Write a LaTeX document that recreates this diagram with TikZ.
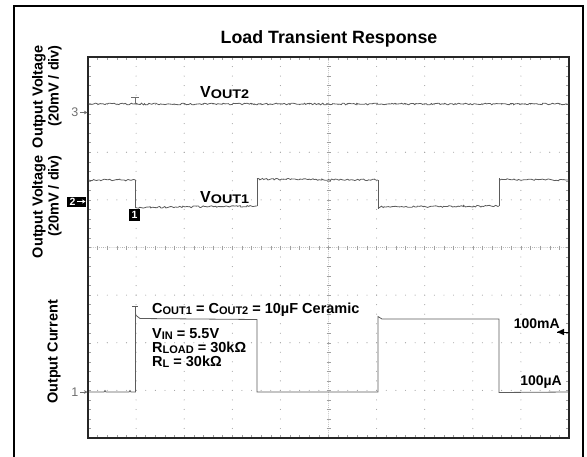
\documentclass[tikz,border=0pt]{standalone}
\usepackage{fontspec}
\setmainfont{Liberation Sans}
\usetikzlibrary{decorations.pathmorphing,arrows.meta}
\definecolor{trace}{HTML}{5C5C5C}
\definecolor{gridc}{HTML}{A0A0A0}
\definecolor{markc}{HTML}{6E6E6E}
\tikzset{
  noisy/.style={draw=trace,line width=0.8pt,decorate,decoration={random steps,segment length=1.6pt,amplitude=0.85pt}},
  clean/.style={draw=trace,line width=0.8pt},
  lbl/.style={inner sep=0pt,font=\fontsize{14.5}{16}\selectfont\bfseries},
  axl/.style={inner sep=0pt,rotate=90,align=right,font=\fontsize{14.5}{16}\selectfont\bfseries},
  gdot/.style={fill=gridc},
  gtick/.style={draw=gridc,line width=0.5pt},
}
\newcommand{\sbs}[1]{\raisebox{-1.3pt}{\fontsize{11}{11}\selectfont #1}}
\newcommand{\vsbs}[1]{\raisebox{-1.3pt}{\scalebox{1.15}[1]{\fontsize{12.5}{12.5}\selectfont #1}}}
\begin{document}
\begin{tikzpicture}[x=1pt,y=-1pt]
\useasboundingbox (0,0) rectangle (587,456);
\pgfmathsetseed{7}
% outer frame
\draw[line width=2.4pt] (14,470) -- (14,6) -- (583,6) -- (583,470);
% title
\node[inner sep=0pt,font=\fontsize{17.8}{20}\selectfont\bfseries,anchor=base] (title) at (329,43) {Load Transient Response};
% grid
\foreach \j in {1,2,3,5,6,7}
  \foreach \i in {0,...,50}
    \fill[gdot] (88+\i*9.62,57+\j*47.625) circle (0.55);
\foreach \k in {1,2,3,4,6,7,8,9}
  \foreach \m in {0,...,40}
    \fill[gdot] (88+\k*48.1,57+\m*9.525) circle (0.55);
\foreach \i in {1,...,49}{
  \draw[gtick] (88+\i*9.62,245.5) -- ++(0,4);
  \draw[gtick] (88+\i*9.62,57) -- ++(0,3);
  \draw[gtick] (88+\i*9.62,438) -- ++(0,-3);
}
\foreach \m in {1,...,39}{
  \draw[gtick] (326.5,57+\m*9.525) -- ++(4,0);
  \draw[gtick] (88,57+\m*9.525) -- ++(3,0);
  \draw[gtick] (569,57+\m*9.525) -- ++(-3,0);
}
\foreach \i in {0,...,250}
  \fill[gdot] (88+\i*1.924,247.5) circle (0.4);
\foreach \m in {0,...,200}
  \fill[gdot] (328.55,57+\m*1.905) circle (0.4);
% plot frame
\draw[line width=1.4pt,draw=black!85] (88,57) rectangle (569,438);
% VOUT2 trace
\draw[noisy] (88.5,104) -- (568.5,104);
\draw[markc,line width=0.8pt] (131,97) -- (139,97) (135,97) -- (135,104);
% VOUT1 trace
\draw[noisy] (88.5,180) -- (135.5,180);
\draw[clean] (135.5,180) -- (135.5,208);
\draw[noisy] (135.5,207.5) -- (257,206);
\draw[clean] (257,206) -- (257,178);
\draw[noisy] (257,179) -- (378,180);
\draw[clean] (378,180) -- (378,209);
\draw[noisy] (378,207) -- (499,206);
\draw[clean] (499,206) -- (499,178);
\draw[noisy] (499,179.5) -- (568.5,180);
% current trace
\draw[clean] (88.5,392) -- (104,392) -- (105,390.5) -- (106,392) -- (129,392) -- (130,390.5) -- (131,392)
  -- (135.5,392) -- (135.5,306);
\draw[clean] (132,306) -- (138,306);
\draw[clean] (135.5,315) -- (140,318.5) -- (257,319.5) -- (257,392) -- (378,392) -- (378,316.5)
  -- (382,319) -- (499,319) -- (499,392.5) -- (568.5,392);
% markers
\node[inner sep=0pt,text=markc,font=\fontsize{12.5}{12}\selectfont,anchor=east] (m3) at (78.5,112.5) {3};
\draw[markc,line width=0.8pt,-{Stealth[length=3.5pt,width=3.5pt]}] (m3.east) ++(1.5,0) -- (87.5,112.5);
\node[fill=black,inner sep=0pt,minimum width=19pt,minimum height=10pt,anchor=east] (m2box) at (86.5,201.5) {};
\node[inner sep=0pt,text=white,font=\fontsize{10.5}{10}\selectfont\bfseries] (m2) at (72.5,201.5) {2};
\draw[white,line width=1pt,-{Stealth[length=3.5pt,width=4pt]}] (m2.east) ++(1.5,0) -- (85.5,201.5);
\node[fill=black,inner sep=0pt,minimum width=11pt,minimum height=12pt,text=white,font=\fontsize{10.5}{10}\selectfont\bfseries] (m1box) at (134.5,215) {1};
\node[inner sep=0pt,text=markc,font=\fontsize{12.5}{12}\selectfont,anchor=east] (m1) at (78.5,392) {1};
\draw[markc,line width=0.8pt,-{Stealth[length=3.5pt,width=3.5pt]}] (m1.east) ++(1.5,0) -- (87.5,392);
% axis labels
\node[axl,anchor=east] (ylab3) at (47,45) {Output Voltage\\(20mV / div)};
\node[axl,anchor=east] (ylab2) at (47,155) {Output Voltage\\(20mV / div)};
\node[axl] (ylab1) at (54,352) {Output Current};
% trace labels
\node[inner sep=0pt,font=\fontsize{16}{16}\selectfont\bfseries,anchor=base west] (v2) at (200,97.5) {V\vsbs{OUT2}};
\node[inner sep=0pt,font=\fontsize{16}{16}\selectfont\bfseries,anchor=base west] (v1) at (200,202.5) {V\vsbs{OUT1}};
\node[lbl,anchor=base west] (cout) at (152,313) {C\sbs{OUT1} = C\sbs{OUT2} = 10µF Ceramic};
\node[lbl,anchor=base west] (vin) at (152,338) {V\sbs{IN} = 5.5V};
\node[lbl,anchor=base west] (rload) at (152,352) {R\sbs{LOAD} = 30kΩ};
\node[lbl,anchor=base west] (rl) at (152,366.5) {R\sbs{L} = 30kΩ};
\node[lbl,font=\fontsize{14}{16}\selectfont\bfseries,anchor=base east] (ima) at (560,328) {100mA};
\node[lbl,font=\fontsize{14}{16}\selectfont\bfseries,anchor=base east] (iua) at (562,385) {100µA};
\coordinate (arrtip) at (557,332);
\coordinate (arrend) at (568.5,332);
\fill[black] (arrtip) -- ++(7,-3.2) -- ++(0,6.4) -- cycle;
\draw[black,line width=1pt] (arrtip) -- (arrend);
\end{tikzpicture}
\end{document}
